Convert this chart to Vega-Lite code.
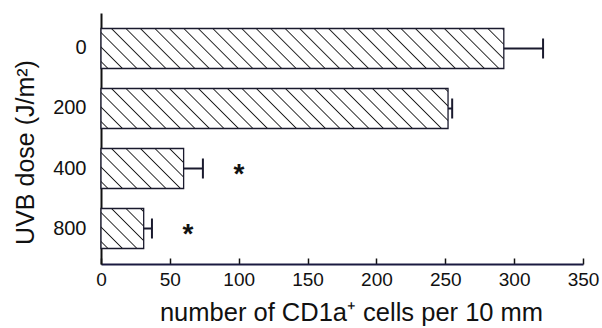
{
  "$schema": "https://vega.github.io/schema/vega-lite/v6.json",
  "width": 482,
  "height": 251,
  "autosize": {"type": "none"},
  "padding": {"left": 101, "top": 13, "right": 19, "bottom": 64},
  "background": "#ffffff",
  "config": {"view": {"stroke": null}, "font": "Liberation Sans"},
  "data": {
    "values": [
      {"dose": "0", "value": 292.5, "upper": 321, "sig": ""},
      {"dose": "200", "value": 252, "upper": 255, "sig": ""},
      {"dose": "400", "value": 60, "upper": 74, "sig": "*"},
      {"dose": "800", "value": 31, "upper": 37, "sig": "*"}
    ]
  },
  "encoding": {
    "y": {
      "field": "dose", "type": "ordinal", "sort": ["0", "200", "400", "800"],
      "scale": {"paddingInner": 0.3333, "paddingOuter": 0.2583},
      "axis": {
        "title": "UVB dose (J/m²)", "ticks": false, "labelPadding": 15, "labelFontSize": 20,
        "labelColor": "#111111", "labelAngle": 0, "domainColor": "#111111", "domainWidth": 2,
        "titleFontSize": 25, "titleFontWeight": "normal", "titleColor": "#111111",
        "titleX": -68, "titleY": 139, "titleAngle": -90, "titleBaseline": "alphabetic", "titleAlign": "center"
      }
    },
    "x": {
      "field": "value", "type": "quantitative",
      "scale": {"domain": [0, 350], "nice": false},
      "axis": {
        "title": "number of CD1a⁺ cells per 10 mm", "values": [0, 50, 100, 150, 200, 250, 300, 350],
        "tickSize": -6, "tickWidth": 1.5, "tickColor": "#111111", "labelPadding": 12, "labelFontSize": 19,
        "labelColor": "#111111", "labelFlush": false, "grid": false, "domainColor": "#1a1a40", "domainWidth": 2,
        "titleFontSize": 25.5, "titleFontWeight": "normal", "titleColor": "#111111",
        "titleX": 250, "titleY": 56, "titleBaseline": "alphabetic", "titleAlign": "center"
      }
    }
  },
  "layer": [
    {
      "transform": [{"filter": "datum.dose === '0'"}],
      "mark": {"type": "bar", "stroke": "#1a1a2e", "strokeWidth": 1.3,
        "fill": {"gradient": "linear", "x1": 0, "y1": 1, "x2": 1.0886, "y2": 0.8919, "stops": [
          {"offset": 0.0128, "color": "#ffffff"}, {"offset": 0.0158, "color": "#222222"}, {"offset": 0.0188, "color": "#ffffff"},
          {"offset": 0.0455, "color": "#ffffff"}, {"offset": 0.0485, "color": "#222222"}, {"offset": 0.0515, "color": "#ffffff"},
          {"offset": 0.0782, "color": "#ffffff"}, {"offset": 0.0812, "color": "#222222"}, {"offset": 0.0842, "color": "#ffffff"},
          {"offset": 0.1109, "color": "#ffffff"}, {"offset": 0.1139, "color": "#222222"}, {"offset": 0.1169, "color": "#ffffff"},
          {"offset": 0.1436, "color": "#ffffff"}, {"offset": 0.1466, "color": "#222222"}, {"offset": 0.1496, "color": "#ffffff"},
          {"offset": 0.1763, "color": "#ffffff"}, {"offset": 0.1793, "color": "#222222"}, {"offset": 0.1823, "color": "#ffffff"},
          {"offset": 0.2090, "color": "#ffffff"}, {"offset": 0.2120, "color": "#222222"}, {"offset": 0.2150, "color": "#ffffff"},
          {"offset": 0.2416, "color": "#ffffff"}, {"offset": 0.2446, "color": "#222222"}, {"offset": 0.2476, "color": "#ffffff"},
          {"offset": 0.2743, "color": "#ffffff"}, {"offset": 0.2773, "color": "#222222"}, {"offset": 0.2803, "color": "#ffffff"},
          {"offset": 0.3070, "color": "#ffffff"}, {"offset": 0.3100, "color": "#222222"}, {"offset": 0.3130, "color": "#ffffff"},
          {"offset": 0.3397, "color": "#ffffff"}, {"offset": 0.3427, "color": "#222222"}, {"offset": 0.3457, "color": "#ffffff"},
          {"offset": 0.3724, "color": "#ffffff"}, {"offset": 0.3754, "color": "#222222"}, {"offset": 0.3784, "color": "#ffffff"},
          {"offset": 0.4051, "color": "#ffffff"}, {"offset": 0.4081, "color": "#222222"}, {"offset": 0.4111, "color": "#ffffff"},
          {"offset": 0.4378, "color": "#ffffff"}, {"offset": 0.4408, "color": "#222222"}, {"offset": 0.4438, "color": "#ffffff"},
          {"offset": 0.4705, "color": "#ffffff"}, {"offset": 0.4735, "color": "#222222"}, {"offset": 0.4765, "color": "#ffffff"},
          {"offset": 0.5032, "color": "#ffffff"}, {"offset": 0.5062, "color": "#222222"}, {"offset": 0.5092, "color": "#ffffff"},
          {"offset": 0.5359, "color": "#ffffff"}, {"offset": 0.5389, "color": "#222222"}, {"offset": 0.5419, "color": "#ffffff"},
          {"offset": 0.5686, "color": "#ffffff"}, {"offset": 0.5716, "color": "#222222"}, {"offset": 0.5746, "color": "#ffffff"},
          {"offset": 0.6013, "color": "#ffffff"}, {"offset": 0.6043, "color": "#222222"}, {"offset": 0.6073, "color": "#ffffff"},
          {"offset": 0.6340, "color": "#ffffff"}, {"offset": 0.6370, "color": "#222222"}, {"offset": 0.6400, "color": "#ffffff"},
          {"offset": 0.6667, "color": "#ffffff"}, {"offset": 0.6697, "color": "#222222"}, {"offset": 0.6727, "color": "#ffffff"},
          {"offset": 0.6994, "color": "#ffffff"}, {"offset": 0.7024, "color": "#222222"}, {"offset": 0.7054, "color": "#ffffff"},
          {"offset": 0.7320, "color": "#ffffff"}, {"offset": 0.7350, "color": "#222222"}, {"offset": 0.7380, "color": "#ffffff"},
          {"offset": 0.7647, "color": "#ffffff"}, {"offset": 0.7677, "color": "#222222"}, {"offset": 0.7707, "color": "#ffffff"},
          {"offset": 0.7974, "color": "#ffffff"}, {"offset": 0.8004, "color": "#222222"}, {"offset": 0.8034, "color": "#ffffff"},
          {"offset": 0.8301, "color": "#ffffff"}, {"offset": 0.8331, "color": "#222222"}, {"offset": 0.8361, "color": "#ffffff"},
          {"offset": 0.8628, "color": "#ffffff"}, {"offset": 0.8658, "color": "#222222"}, {"offset": 0.8688, "color": "#ffffff"},
          {"offset": 0.8955, "color": "#ffffff"}, {"offset": 0.8985, "color": "#222222"}, {"offset": 0.9015, "color": "#ffffff"},
          {"offset": 0.9282, "color": "#ffffff"}, {"offset": 0.9312, "color": "#222222"}, {"offset": 0.9342, "color": "#ffffff"},
          {"offset": 0.9609, "color": "#ffffff"}, {"offset": 0.9639, "color": "#222222"}, {"offset": 0.9669, "color": "#ffffff"},
          {"offset": 0.9936, "color": "#ffffff"}, {"offset": 0.9966, "color": "#222222"}, {"offset": 0.9996, "color": "#ffffff"}
        ]}}
    },
    {
      "transform": [{"filter": "datum.dose === '200'"}],
      "mark": {"type": "bar", "stroke": "#1a1a2e", "strokeWidth": 1.3,
        "fill": {"gradient": "linear", "x1": 0, "y1": 1, "x2": 1.1006, "y2": 0.8731, "stops": [
          {"offset": 0.0147, "color": "#ffffff"}, {"offset": 0.0181, "color": "#222222"}, {"offset": 0.0215, "color": "#ffffff"},
          {"offset": 0.0521, "color": "#ffffff"}, {"offset": 0.0555, "color": "#222222"}, {"offset": 0.0589, "color": "#ffffff"},
          {"offset": 0.0896, "color": "#ffffff"}, {"offset": 0.0930, "color": "#222222"}, {"offset": 0.0964, "color": "#ffffff"},
          {"offset": 0.1271, "color": "#ffffff"}, {"offset": 0.1305, "color": "#222222"}, {"offset": 0.1339, "color": "#ffffff"},
          {"offset": 0.1646, "color": "#ffffff"}, {"offset": 0.1680, "color": "#222222"}, {"offset": 0.1714, "color": "#ffffff"},
          {"offset": 0.2020, "color": "#ffffff"}, {"offset": 0.2054, "color": "#222222"}, {"offset": 0.2088, "color": "#ffffff"},
          {"offset": 0.2395, "color": "#ffffff"}, {"offset": 0.2429, "color": "#222222"}, {"offset": 0.2463, "color": "#ffffff"},
          {"offset": 0.2769, "color": "#ffffff"}, {"offset": 0.2803, "color": "#222222"}, {"offset": 0.2837, "color": "#ffffff"},
          {"offset": 0.3144, "color": "#ffffff"}, {"offset": 0.3178, "color": "#222222"}, {"offset": 0.3212, "color": "#ffffff"},
          {"offset": 0.3519, "color": "#ffffff"}, {"offset": 0.3553, "color": "#222222"}, {"offset": 0.3587, "color": "#ffffff"},
          {"offset": 0.3893, "color": "#ffffff"}, {"offset": 0.3927, "color": "#222222"}, {"offset": 0.3961, "color": "#ffffff"},
          {"offset": 0.4268, "color": "#ffffff"}, {"offset": 0.4302, "color": "#222222"}, {"offset": 0.4336, "color": "#ffffff"},
          {"offset": 0.4643, "color": "#ffffff"}, {"offset": 0.4677, "color": "#222222"}, {"offset": 0.4711, "color": "#ffffff"},
          {"offset": 0.5017, "color": "#ffffff"}, {"offset": 0.5051, "color": "#222222"}, {"offset": 0.5085, "color": "#ffffff"},
          {"offset": 0.5392, "color": "#ffffff"}, {"offset": 0.5426, "color": "#222222"}, {"offset": 0.5460, "color": "#ffffff"},
          {"offset": 0.5766, "color": "#ffffff"}, {"offset": 0.5800, "color": "#222222"}, {"offset": 0.5834, "color": "#ffffff"},
          {"offset": 0.6141, "color": "#ffffff"}, {"offset": 0.6175, "color": "#222222"}, {"offset": 0.6209, "color": "#ffffff"},
          {"offset": 0.6516, "color": "#ffffff"}, {"offset": 0.6550, "color": "#222222"}, {"offset": 0.6584, "color": "#ffffff"},
          {"offset": 0.6890, "color": "#ffffff"}, {"offset": 0.6924, "color": "#222222"}, {"offset": 0.6958, "color": "#ffffff"},
          {"offset": 0.7265, "color": "#ffffff"}, {"offset": 0.7299, "color": "#222222"}, {"offset": 0.7333, "color": "#ffffff"},
          {"offset": 0.7640, "color": "#ffffff"}, {"offset": 0.7674, "color": "#222222"}, {"offset": 0.7708, "color": "#ffffff"},
          {"offset": 0.8014, "color": "#ffffff"}, {"offset": 0.8048, "color": "#222222"}, {"offset": 0.8082, "color": "#ffffff"},
          {"offset": 0.8389, "color": "#ffffff"}, {"offset": 0.8423, "color": "#222222"}, {"offset": 0.8457, "color": "#ffffff"},
          {"offset": 0.8764, "color": "#ffffff"}, {"offset": 0.8798, "color": "#222222"}, {"offset": 0.8832, "color": "#ffffff"},
          {"offset": 0.9138, "color": "#ffffff"}, {"offset": 0.9172, "color": "#222222"}, {"offset": 0.9206, "color": "#ffffff"},
          {"offset": 0.9513, "color": "#ffffff"}, {"offset": 0.9547, "color": "#222222"}, {"offset": 0.9581, "color": "#ffffff"},
          {"offset": 0.9887, "color": "#ffffff"}, {"offset": 0.9921, "color": "#222222"}, {"offset": 0.9955, "color": "#ffffff"}
        ]}}
    },
    {
      "transform": [{"filter": "datum.dose === '400'"}],
      "mark": {"type": "bar", "stroke": "#1a1a2e", "strokeWidth": 1.3,
        "fill": {"gradient": "linear", "x1": 0, "y1": 1, "x2": 1.2024, "y2": 0.418, "stops": [
          {"offset": 0.0465, "color": "#ffffff"}, {"offset": 0.0571, "color": "#222222"}, {"offset": 0.0677, "color": "#ffffff"},
          {"offset": 0.1647, "color": "#ffffff"}, {"offset": 0.1753, "color": "#222222"}, {"offset": 0.1859, "color": "#ffffff"},
          {"offset": 0.2830, "color": "#ffffff"}, {"offset": 0.2936, "color": "#222222"}, {"offset": 0.3042, "color": "#ffffff"},
          {"offset": 0.4012, "color": "#ffffff"}, {"offset": 0.4118, "color": "#222222"}, {"offset": 0.4224, "color": "#ffffff"},
          {"offset": 0.5194, "color": "#ffffff"}, {"offset": 0.5300, "color": "#222222"}, {"offset": 0.5406, "color": "#ffffff"},
          {"offset": 0.6377, "color": "#ffffff"}, {"offset": 0.6483, "color": "#222222"}, {"offset": 0.6589, "color": "#ffffff"},
          {"offset": 0.7559, "color": "#ffffff"}, {"offset": 0.7665, "color": "#222222"}, {"offset": 0.7771, "color": "#ffffff"},
          {"offset": 0.8742, "color": "#ffffff"}, {"offset": 0.8848, "color": "#222222"}, {"offset": 0.8954, "color": "#ffffff"}
        ]}}
    },
    {
      "transform": [{"filter": "datum.dose === '800'"}],
      "mark": {"type": "bar", "stroke": "#1a1a2e", "strokeWidth": 1.3,
        "fill": {"gradient": "linear", "x1": 0, "y1": 1, "x2": 1.0315, "y2": 0.0336, "stops": [
          {"offset": 0.0690, "color": "#ffffff"}, {"offset": 0.0847, "color": "#222222"}, {"offset": 0.1004, "color": "#ffffff"},
          {"offset": 0.2443, "color": "#ffffff"}, {"offset": 0.2600, "color": "#222222"}, {"offset": 0.2757, "color": "#ffffff"},
          {"offset": 0.4197, "color": "#ffffff"}, {"offset": 0.4354, "color": "#222222"}, {"offset": 0.4511, "color": "#ffffff"},
          {"offset": 0.5950, "color": "#ffffff"}, {"offset": 0.6107, "color": "#222222"}, {"offset": 0.6264, "color": "#ffffff"},
          {"offset": 0.7704, "color": "#ffffff"}, {"offset": 0.7861, "color": "#222222"}, {"offset": 0.8018, "color": "#ffffff"},
          {"offset": 0.9457, "color": "#ffffff"}, {"offset": 0.9614, "color": "#222222"}, {"offset": 0.9771, "color": "#ffffff"}
        ]}}
    },
    {
      "mark": {"type": "rule", "strokeWidth": 2, "color": "#1a1a2e"},
      "encoding": {"x2": {"field": "upper"}}
    },
    {
      "mark": {"type": "tick", "thickness": 2, "size": 20, "color": "#1a1a2e", "opacity": 1},
      "encoding": {"x": {"field": "upper", "type": "quantitative", "title": "number of CD1a⁺ cells per 10 mm"}}
    },
    {
      "transform": [{"filter": "datum.sig === '*'"}],
      "mark": {"type": "text", "fontSize": 28, "fontWeight": "bold", "dx": 36, "dy": 6, "baseline": "middle", "align": "center", "color": "#111111"},
      "encoding": {
        "x": {"field": "upper", "type": "quantitative", "title": "number of CD1a⁺ cells per 10 mm"},
        "text": {"field": "sig"}
      }
    }
  ]
}
